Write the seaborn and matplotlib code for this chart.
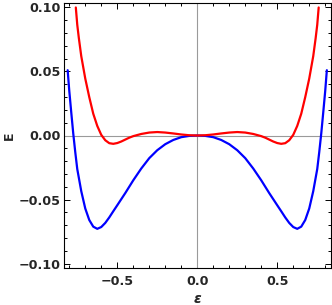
import pandas as pd
import matplotlib
matplotlib.use("Agg")
import matplotlib.pyplot as plt
from matplotlib.ticker import MultipleLocator, FuncFormatter
import seaborn as sns

# values
eps_blue = [-0.81, -0.8, -0.7875, -0.775, -0.7625, -0.75, -0.725, -0.7, -0.675, -0.65,
            -0.625, -0.6, -0.575, -0.55, -0.525, -0.5, -0.45, -0.4, -0.35, -0.3,
            -0.25, -0.2, -0.15, -0.1, -0.05, 0.0, 0.05, 0.1, 0.15, 0.2,
            0.25, 0.3, 0.35, 0.4, 0.45, 0.5, 0.525, 0.55, 0.575, 0.6,
            0.625, 0.65, 0.675, 0.7, 0.725, 0.75, 0.7625, 0.775, 0.7875, 0.8, 0.81]
E_blue = [0.0510, 0.0350, 0.0180, 0.0015, -0.0130, -0.0262, -0.0435, -0.0570, -0.0660, -0.0712,
          -0.0729, -0.0715, -0.0683, -0.0640, -0.0592, -0.0545, -0.0450, -0.0350, -0.0258, -0.0177,
          -0.0115, -0.0068, -0.0035, -0.0013, -0.0003, 0.0, -0.0003, -0.0013, -0.0035, -0.0068,
          -0.0115, -0.0177, -0.0258, -0.0350, -0.0450, -0.0545, -0.0592, -0.0640, -0.0683, -0.0715,
          -0.0729, -0.0712, -0.0660, -0.0570, -0.0435, -0.0262, -0.0130, 0.0015, 0.0180, 0.0350, 0.0510]

eps_red = [-0.759, -0.75, -0.74, -0.725, -0.7, -0.675, -0.65, -0.625, -0.6, -0.575,
           -0.55, -0.525, -0.5, -0.475, -0.45, -0.425, -0.4, -0.35, -0.3, -0.25,
           -0.2, -0.15, -0.1, -0.05, 0.0, 0.05, 0.1, 0.15, 0.2, 0.25,
           0.3, 0.35, 0.4, 0.425, 0.45, 0.475, 0.5, 0.525, 0.55, 0.575,
           0.6, 0.625, 0.65, 0.675, 0.7, 0.725, 0.74, 0.75, 0.759]
E_red = [0.1000, 0.0865, 0.0760, 0.0620, 0.0445, 0.0300, 0.0170, 0.0075, 0.0005, -0.0037,
         -0.0060, -0.0065, -0.0059, -0.0047, -0.0032, -0.0017, -0.0005, 0.0012, 0.0023, 0.0027,
         0.0023, 0.0016, 0.0008, 0.0002, 0.0, 0.0002, 0.0008, 0.0016, 0.0023, 0.0027,
         0.0023, 0.0012, -0.0005, -0.0017, -0.0032, -0.0047, -0.0059, -0.0065, -0.0060, -0.0037,
         0.0005, 0.0075, 0.0170, 0.0300, 0.0445, 0.0620, 0.0760, 0.0865, 0.1000]

x_ticks = [-0.5, 0.0, 0.5]
y_ticks = [-0.10, -0.05, 0.00, 0.05, 0.10]

sns.set_theme(style="ticks")
plt.rcParams['font.family'] = ['DejaVu Sans']
plt.rcParams['font.weight'] = 'bold'

fig = plt.figure(figsize=(3.32, 3.05), dpi=100)
ax = fig.add_axes([63.5 / 332, 37 / 305, 267.5 / 332, 265 / 305])

# axes through the origin
ax.axhline(0, color='#9a9a9a', lw=0.8, zorder=1)
ax.axvline(0, color='#9a9a9a', lw=0.8, zorder=1)

blue_df = pd.DataFrame({'eps': eps_blue, 'E': E_blue})
red_df = pd.DataFrame({'eps': eps_red, 'E': E_red})
sns.lineplot(data=blue_df, x='eps', y='E', color='#0000ff', lw=1.6,
             sort=False, estimator=None, ax=ax, zorder=3)
sns.lineplot(data=red_df, x='eps', y='E', color='#ff0000', lw=1.6,
             sort=False, estimator=None, ax=ax, zorder=4)

ax.set_xlim(-0.836, 0.836)
ax.set_ylim(-0.1035, 0.1035)
ax.set_xticks(x_ticks)
ax.set_yticks(y_ticks)
ax.xaxis.set_minor_locator(MultipleLocator(0.1))
ax.yaxis.set_minor_locator(MultipleLocator(0.01))


def fmt(digits):
    def f(v, pos):
        if abs(v) < 1e-9:
            v = 0.0
        return ('%.*f' % (digits, v)).replace('-', '\u2212')
    return FuncFormatter(f)


ax.xaxis.set_major_formatter(fmt(1))
ax.yaxis.set_major_formatter(fmt(2))

ax.tick_params(which='both', direction='in', top=True, right=True, width=0.7, color='black')
ax.tick_params(which='major', length=4)
ax.tick_params(which='minor', length=2)
ax.tick_params(axis='x', pad=5, labelsize=9.2)
ax.tick_params(axis='y', pad=2, labelsize=9.2)
for lab in ax.get_xticklabels() + ax.get_yticklabels():
    lab.set_fontweight('bold')

for s in ax.spines.values():
    s.set_linewidth(0.8)
    s.set_color('black')

ax.set_xlabel('\u03b5', fontsize=10, fontweight='bold', style='italic', labelpad=3)
ax.set_ylabel('E', fontsize=9, fontweight='bold')
ax.yaxis.set_label_coords(-0.178, 0.5)

fig.savefig('out.png', dpi=100)
